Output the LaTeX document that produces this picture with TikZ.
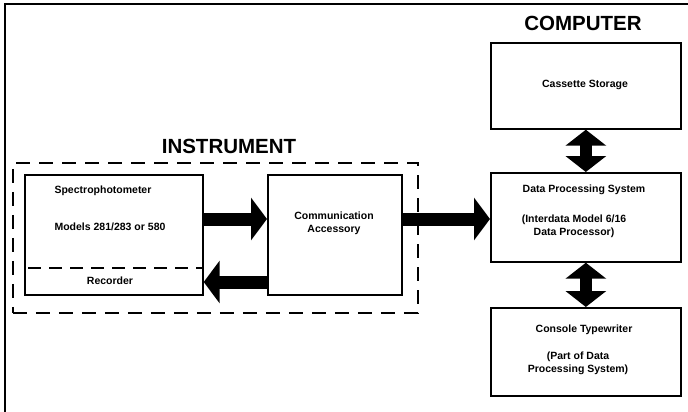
\documentclass[tikz,border=0pt]{standalone}
\usepackage{fontspec}
\setmainfont{Liberation Sans}
\usetikzlibrary{arrows.meta}
\begin{document}
\begin{tikzpicture}[x=1pt,y=-1pt,
  box/.style={draw, line width=1.7pt, rectangle, anchor=north west, inner sep=0pt},
  txt/.style={font=\bfseries\fontsize{10.5}{13}\selectfont, align=center, inner sep=0pt},
  heading/.style={font=\bfseries\fontsize{20.5}{24}\selectfont, inner sep=0pt},
  dashedframe/.style={draw, line width=1.7pt, dash pattern=on 14pt off 9pt, rectangle, anchor=north west, inner sep=0pt},
  fat/.style={line width=13pt, -{Triangle[length=16pt,width=42pt]}},
  fatboth/.style={line width=12pt, {Triangle[length=16pt,width=40pt]}-{Triangle[length=16pt,width=40pt]}}
]
\useasboundingbox (0,0) rectangle (688,412);

% outer frame (left and top edges only)
\coordinate (fbl) at (5,412);
\coordinate (ftl) at (5,4);
\coordinate (ftr) at (688,4);
\draw[line width=1.7pt] (fbl) -- (ftl) -- (ftr);

% instrument group
\node[heading] (insthead) at (229,146) {INSTRUMENT};
\node[dashedframe, minimum width=405pt, minimum height=150pt] (inst) at (12,162) {};
\node[box, minimum width=178pt, minimum height=120pt] (spec) at (24,174) {};
\node[box, minimum width=134pt, minimum height=120pt] (comm) at (267,174) {};
\coordinate (recline) at (24,268);
\draw[line width=1.5pt, dash pattern=on 13pt off 8pt] ([xshift=4pt]spec.west |- recline) -- (spec.east |- recline);
\node[txt] (spectxt) at (103,191) {Spectrophotometer};
\node[txt] (modtxt) at (110,227) {Models 281/283 or 580};
\node[txt] (rectxt) at (110,281) {Recorder};
\node[txt] (commtxt) at (334,223) {Communication\\Accessory};

% computer group
\node[heading] (comphead) at (583,23) {COMPUTER};
\node[box, minimum width=190pt, minimum height=86pt] (cass) at (490,42) {};
\node[box, minimum width=190pt, minimum height=89pt] (dps) at (490,172) {};
\node[box, minimum width=190pt, minimum height=88pt] (cons) at (490,307) {};
\node[txt] (casstxt) at (585,85) {Cassette Storage};
\node[txt] (dpstxt) at (584,190) {Data Processing System};
\node[txt] (dpssub) at (574,226) {(Interdata Model 6/16\\Data Processor)};
\node[txt] (constxt) at (584,330) {Console Typewriter};
\node[txt] (conssub) at (578,363) {(Part of Data\\Processing System)};

% data flow
\coordinate (yout) at (0,219);
\coordinate (yback) at (0,282);
\draw[fat] (spec.east |- yout) -- (comm.west |- yout);
\draw[fat] (comm.west |- yback) -- (spec.east |- yback);
\draw[fat] (comm.east |- yout) -- (dps.west |- yout);
\draw[fatboth] (cass.south) -- (dps.north);
\draw[fatboth] (dps.south) -- (cons.north);
\end{tikzpicture}
\end{document}
